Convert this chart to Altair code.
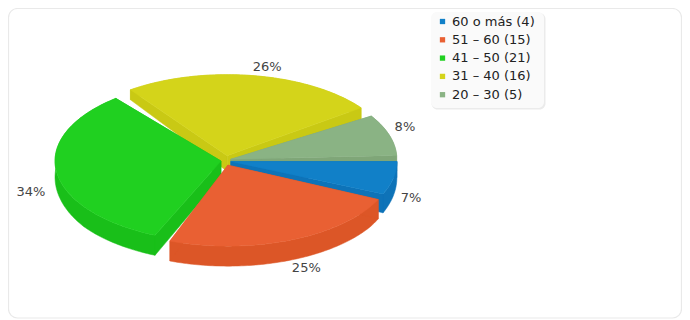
import math
import altair as alt
import pandas as pd

LABELS = ["60 o más (4)", "51 – 60 (15)", "41 – 50 (21)", "31 – 40 (16)", "20 – 30 (5)"]
VALUES = [4, 15, 21, 16, 5]
PERCENT = ["7%", "25%", "34%", "26%", "8%"]
TOP_COLORS = ["#1180C8", "#E96033", "#20D020", "#D4D41A", "#8AB384"]
WALL_COLORS = ["#0E73B8", "#DC5627", "#19BF19", "#C9C914", "#7FA678"]

# geometry of the drawing (page pixels)
OFF = 8
CX, CY = 226.0, 160.5
RX, RY = 166.0, 81.0
EXPLODE = 5.0
ANGLE_NUDGE = [(0, 0), (1.5, -1.7), (1.3, -5.4), (-1.7, -6.7), (-2.7, -2.7)]
LABEL_NUDGE = [(5, 18), (11, 19), (-12, 22), (-1, -1), (1, -9)]
PAINT_ORDER = [3, 4, 2, 0, 1]


def thick(y):
    return min(20.0, 10 + (y - 90) * 6 / 70)


total = sum(VALUES)
slices = []
start = 0.0
for v, nudge in zip(VALUES, ANGLE_NUDGE):
    sweep = v / total * 360
    mid = math.radians(start + sweep / 2)
    ax = CX + EXPLODE * math.cos(mid)
    ay = CY + EXPLODE * math.sin(mid)
    a0, a1 = start + nudge[0], start + sweep + nudge[1]
    n = max(4, int(abs(a1 - a0)))
    arc = []
    for k in range(n + 1):
        t = math.radians(a0 + (a1 - a0) * k / n)
        arc.append((ax + RX * math.cos(t), ay + RY * math.sin(t)))
    slices.append(dict(apex=(ax, ay), arc=arc, mid=mid))
    start += sweep


def rows(points, face=0, name=""):
    return [dict(x=p[0] - OFF, y=p[1] - OFF, i=j, face=face, name=name) for j, p in enumerate(points)]


def drop(points):
    return [(p[0], p[1] + thick(p[1])) for p in reversed(points)]


W, H = 674, 311
xs = alt.Scale(domain=[0, W], range=[0, W])
ys = alt.Scale(domain=[0, H], range=[0, H])
X = alt.X("x:Q", scale=xs, axis=None)
Y = alt.Y("y:Q", scale=ys, axis=None)


def box(x, x2, y, y2, **mark):
    df = pd.DataFrame([dict(x=x, x2=x2, y=y, y2=y2)])
    return alt.Chart(df).mark_rect(**mark).encode(x=X, x2="x2:Q", y=Y, y2="y2:Q")


layers = [
    box(0.5, W - 0.5, 0.5, H - 1, fill="white", stroke="#e9e9e9", strokeWidth=1.2, cornerRadius=9),
    box(423.5, 537.5, 5, 101.5, fill="#ebebeb", cornerRadius=6),
    box(423, 536, 4, 100, fill="#fafafa", cornerRadius=6),
]

for idx in PAINT_ORDER:
    s = slices[idx]
    apex, arc = s["apex"], s["arc"]
    wall = []
    wall += rows(arc + drop(arc), 0)
    for f, edge in enumerate((arc[0], arc[-1]), start=1):
        seg = [apex, edge]
        wall += rows(seg + drop(seg), f)
    layers.append(
        alt.Chart(pd.DataFrame(wall)).mark_line(
            fill=WALL_COLORS[idx], stroke=WALL_COLORS[idx], strokeWidth=0.5, interpolate="linear-closed"
        ).encode(x=X, y=Y, detail="face:N", order="i:Q")
    )
    top = rows([apex] + arc, 0, LABELS[idx])
    layers.append(
        alt.Chart(pd.DataFrame(top)).mark_line(
            stroke=TOP_COLORS[idx], strokeWidth=0.5, interpolate="linear-closed"
        ).encode(
            x=X, y=Y, order="i:Q",
            fill=alt.Fill(
                "name:N",
                scale=alt.Scale(domain=LABELS, range=TOP_COLORS),
                legend=alt.Legend(
                    orient="none", legendX=422, legendY=1, title=None,
                    padding=6,
                    symbolType="square", symbolSize=28, symbolStrokeWidth=0,
                    labelFont="DejaVu Sans", labelFontSize=13, labelColor="#222222",
                    rowPadding=4.3, symbolOffset=0, labelOffset=3, zindex=1,
                ),
            ),
        )
    )

label_rows = []
for s, txt, nudge in zip(slices, PERCENT, LABEL_NUDGE):
    label_rows.append(dict(
        x=CX + (RX + 18) * math.cos(s["mid"]) + nudge[0] - OFF,
        y=CY + (RY + 14) * math.sin(s["mid"]) + nudge[1] - OFF,
        t=txt,
    ))
layers.append(
    alt.Chart(pd.DataFrame(label_rows)).mark_text(
        font="DejaVu Sans", fontSize=13, color="#444444", align="center", baseline="middle"
    ).encode(x=X, y=Y, text="t:N")
)

chart = alt.layer(*layers).resolve_scale(fill="shared").properties(
    width=W, height=H, padding=0, autosize=alt.AutoSizeParams(type="none")
).configure_view(stroke=None)

chart.save("out.html", embed_options={"renderer": "svg", "actions": False})
